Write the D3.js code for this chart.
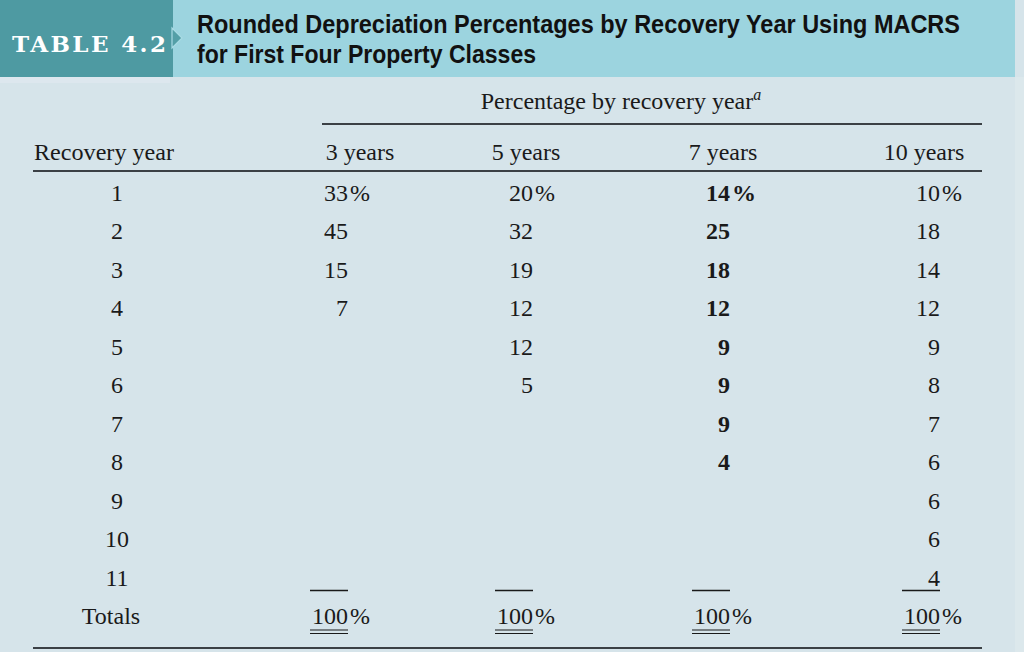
<!DOCTYPE html>
<html><head><meta charset="utf-8">
<script src="https://cdn.jsdelivr.net/npm/d3@7"></script>
<style>html,body{margin:0;padding:0;background:#d6e4ea;}svg{display:block;}</style>
</head><body>
<svg id="chart" width="1024" height="652"></svg>
<script>
// ---- data ----
const tableLabel = "TABLE 4.2";
const titleLines = ["Rounded Depreciation Percentages by Recovery Year Using MACRS", "for First Four Property Classes"];
const spanner = "Percentage by recovery year";
const rowHeader = "Recovery year";
const recoveryYears = ["1","2","3","4","5","6","7","8","9","10","11"];
const totalsLabel = "Totals";
const classNames = ["3 years", "5 years", "7 years", "10 years"];
const threeYear = [33, 45, 15, 7];
const fiveYear = [20, 32, 19, 12, 12, 5];
const sevenYear = [14, 25, 18, 12, 9, 9, 9, 4];
const tenYear = [10, 18, 14, 12, 9, 8, 7, 6, 6, 6, 4];
const totals = [100, 100, 100, 100];

const series = [threeYear, fiveYear, sevenYear, tenYear];

// ---- layout ----
const svg = d3.select("#chart");
const W = 1024, H = 652;
const serif = "'Liberation Serif', 'DejaVu Serif', serif";
const ink = "#1a1a1a";
const rule = "#3b4045";

// backgrounds
svg.append("rect").attr("x",0).attr("y",0).attr("width",W).attr("height",H).attr("fill","#d6e4ea");
svg.append("rect").attr("x",1015).attr("y",77).attr("width",9).attr("height",H-77).attr("fill","#dce8ec");
svg.append("rect").attr("x",0).attr("y",77).attr("width",170).attr("height",6).attr("fill","#dde7ee");
svg.append("rect").attr("x",173).attr("y",0).attr("width",842).attr("height",77).attr("fill","#9cd4df");
svg.append("rect").attr("x",0).attr("y",0).attr("width",173).attr("height",77).attr("fill","#4e9aa2");
svg.append("polygon").attr("points","172,28 182,38 172,48").attr("fill","#549fa7").attr("stroke","#a9dbe4").attr("stroke-width",1.2);

svg.append("text").attr("x",12).attr("y",52)
  .attr("font-family","'DejaVu Serif', serif").attr("font-weight","bold").attr("font-size",23)
  .attr("fill","#ffffff")
  .attr("textLength",154).attr("lengthAdjust","spacing")
  .text(tableLabel);

const titleLens = [763, 339];
titleLines.forEach((t,i)=>{
  svg.append("text").attr("x",197).attr("y",33 + i*30)
    .attr("font-family","'Liberation Sans', sans-serif").attr("font-weight","bold").attr("font-size",26)
    .attr("fill","#111").attr("textLength",titleLens[i]).attr("lengthAdjust","spacingAndGlyphs")
    .text(t);
});

// scales
const rowKeys = recoveryYears.concat([totalsLabel]);
const y = d3.scalePoint().domain(rowKeys).range([201, 624]);
const colX = d3.scaleOrdinal().domain(classNames).range([348, 533, 730, 940]);
const headerX = d3.scaleOrdinal().domain(classNames).range([360, 526, 723, 924]);

const fs = 24;

// spanner
const sp = svg.append("text").attr("x",621).attr("y",109).attr("text-anchor","middle")
  .attr("font-family",serif).attr("font-size",fs).attr("fill",ink);
sp.append("tspan").text(spanner);
sp.append("tspan").attr("dy",-9).attr("font-size",16).attr("font-style","italic").text("a");

// rules
function hline(x1,x2,yy,w){svg.append("line").attr("x1",x1).attr("x2",x2).attr("y1",yy).attr("y2",yy).attr("stroke",rule).attr("stroke-width",w);}
hline(322,982,124,2);
hline(33,982,171,2);
hline(33,982,648,2);

// column headers
svg.append("text").attr("x",34).attr("y",160).attr("font-family",serif).attr("font-size",fs).attr("fill",ink)
  .attr("textLength",140).attr("lengthAdjust","spacingAndGlyphs").text(rowHeader);
classNames.forEach(c=>{
  svg.append("text").attr("x",headerX(c)).attr("y",160).attr("text-anchor","middle")
    .attr("font-family",serif).attr("font-size",fs).attr("fill",ink).text(c);
});

// row labels
rowKeys.forEach(r=>{
  svg.append("text").attr("x", r===totalsLabel ? 111 : 117).attr("y",y(r)).attr("text-anchor","middle")
    .attr("font-family",serif).attr("font-size",fs).attr("fill",ink).text(r);
});

// values
series.forEach((vals, ci)=>{
  const c = classNames[ci];
  const bold = ci === 2;
  const x = colX(c);
  const g = svg.append("g").attr("font-family",serif).attr("font-size",fs).attr("fill",ink)
    .attr("font-weight", bold ? "bold" : "normal");
  g.selectAll("text.v").data(vals).enter().append("text").attr("class","v")
    .attr("x",x).attr("y",(d,i)=>y(recoveryYears[i])).attr("text-anchor","end").text(d=>d);
  g.append("text").attr("x",x+2).attr("y",y(recoveryYears[0])).text("%");
  const lineY = y(recoveryYears[recoveryYears.length-1]) + 5;
  svg.append("line").attr("x1",x-38).attr("x2",x).attr("y1",lineY).attr("y2",lineY).attr("stroke",ink).attr("stroke-width",1.6);
  svg.append("text").attr("x",x).attr("y",y(totalsLabel)).attr("text-anchor","end")
    .attr("font-family",serif).attr("font-size",fs).attr("fill",ink).text(totals[ci]);
  svg.append("text").attr("x",x+2).attr("y",y(totalsLabel))
    .attr("font-family",serif).attr("font-size",fs).attr("fill",ink).text("%");
  [630, 633.5].forEach(yy=>{
    svg.append("line").attr("x1",x-38).attr("x2",x).attr("y1",yy).attr("y2",yy).attr("stroke",ink).attr("stroke-width",1.2);
  });
});
</script>
</body></html>
